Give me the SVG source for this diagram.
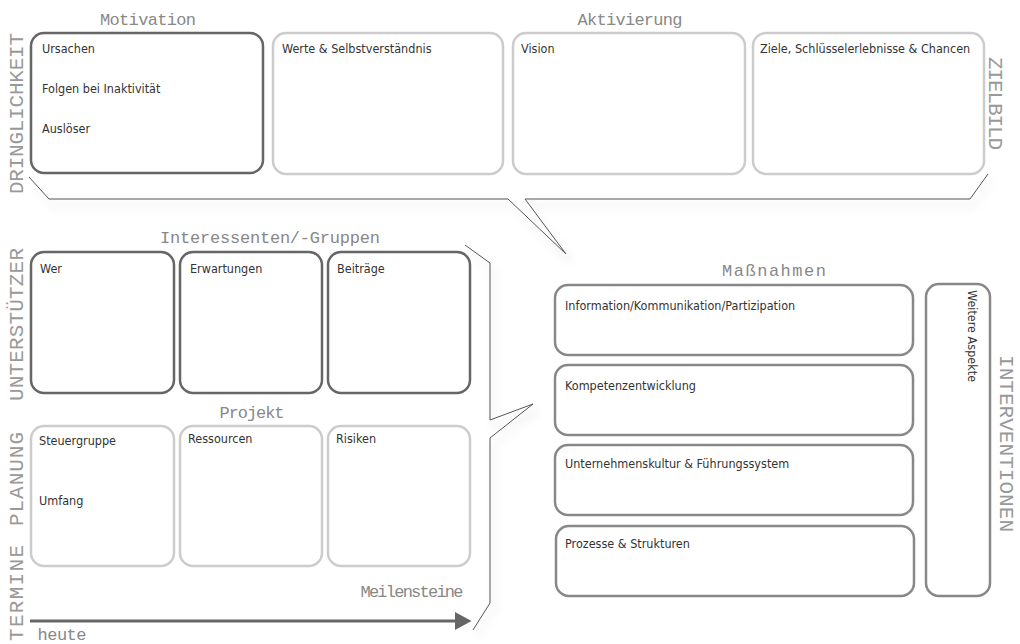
<svg xmlns="http://www.w3.org/2000/svg" width="1020" height="644" viewBox="0 0 1020 644">
<style>
.bd{fill:#fff;stroke:#666;stroke-width:2.5}
.bl{fill:#fff;stroke:#ccc;stroke-width:2.5}
.bm{fill:#fff;stroke:#888;stroke-width:2.5}
.t{font-family:"DejaVu Sans Condensed","DejaVu Sans",sans-serif;font-size:12.5px;fill:#333}
.h{font-family:"Liberation Mono",monospace;font-size:17px;fill:#888;text-anchor:middle}
.s{font-family:"Liberation Mono",monospace;font-size:21px;fill:#999}
.br{fill:none;stroke:#555;stroke-width:1}
</style>
<defs>
<filter id="sh" x="-10%" y="-20%" width="120%" height="160%">
<feDropShadow dx="4" dy="7" stdDeviation="5" flood-color="#000" flood-opacity="0.22"/>
</filter>
<marker id="ah" markerWidth="6" markerHeight="6" refX="1" refY="3" orient="auto" markerUnits="strokeWidth">
<path d="M0,0 L5.5,3 L0,6 z" fill="#666"/>
</marker>
</defs>

<g id="connectors">
<path class="br" filter="url(#sh)" d="M29,177 L49,199 L508,199 L566,254 L525,199 L970,199 L988,174"/>
<path class="br" filter="url(#sh)" d="M465,245 L490,263 L490,420 L533,404 L490,438 L490,603 L473,630"/>
<line x1="30" y1="621" x2="458" y2="621" stroke="#666" stroke-width="3" marker-end="url(#ah)"/>
</g>

<g id="labels">
<text class="s" transform="translate(23,194) rotate(-90)" textLength="161" lengthAdjust="spacing">DRINGLICHKEIT</text>
<text class="s" transform="translate(23,401) rotate(-90)" textLength="153" lengthAdjust="spacing">UNTERSTÜTZER</text>
<text class="s" transform="translate(23,526) rotate(-90)" textLength="94" lengthAdjust="spacing">PLANUNG</text>
<text class="s" transform="translate(23,641) rotate(-90)" textLength="96" lengthAdjust="spacing">TERMINE</text>
<text class="s" transform="translate(989,57) rotate(90)" textLength="93" lengthAdjust="spacing">ZIELBILD</text>
<text class="s" transform="translate(1000,355) rotate(90)" textLength="177" lengthAdjust="spacing">INTERVENTIONEN</text>
<text class="h" x="148" y="25" textLength="96" lengthAdjust="spacing">Motivation</text>
<text class="h" x="630" y="25" textLength="105" lengthAdjust="spacing">Aktivierung</text>
<text class="h" x="270" y="243" textLength="220" lengthAdjust="spacing">Interessenten/-Gruppen</text>
<text class="h" x="252" y="418" textLength="65" lengthAdjust="spacing">Projekt</text>
<text class="h" x="774" y="276" textLength="104" lengthAdjust="spacing">Maßnahmen</text>
<text class="h" x="412" y="597" textLength="103" lengthAdjust="spacing">Meilensteine</text>
<text class="h" x="62" y="640" textLength="49" lengthAdjust="spacing">heute</text>
</g>

<g id="motivation"><rect class="bd" x="31" y="33" width="232" height="140" rx="13"/>
<text class="t" x="42" y="53">Ursachen</text><text class="t" x="42" y="93">Folgen bei Inaktivität</text><text class="t" x="42" y="133">Auslöser</text></g>
<g id="werte"><rect class="bl" x="273" y="33" width="230" height="141" rx="13"/><text class="t" x="282" y="53">Werte &amp; Selbstverständnis</text></g>
<g id="vision"><rect class="bl" x="513" y="33" width="232" height="141" rx="13"/><text class="t" x="521" y="53">Vision</text></g>
<g id="ziele"><rect class="bl" x="753" y="33" width="231" height="141" rx="13"/><text class="t" x="760" y="53">Ziele, Schlüsselerlebnisse &amp; Chancen</text></g>

<g id="wer"><rect class="bd" x="31" y="252" width="143" height="141" rx="13"/><text class="t" x="40" y="273">Wer</text></g>
<g id="erwartungen"><rect class="bd" x="180" y="252" width="142" height="141" rx="13"/><text class="t" x="190" y="273">Erwartungen</text></g>
<g id="beitraege"><rect class="bd" x="328" y="252" width="142" height="141" rx="13"/><text class="t" x="337" y="273">Beiträge</text></g>

<g id="steuergruppe"><rect class="bl" x="31" y="426" width="143" height="140" rx="13"/><text class="t" x="39" y="445">Steuergruppe</text><text class="t" x="39" y="505">Umfang</text></g>
<g id="ressourcen"><rect class="bl" x="180" y="426" width="142" height="140" rx="13"/><text class="t" x="188" y="443">Ressourcen</text></g>
<g id="risiken"><rect class="bl" x="328" y="426" width="142" height="140" rx="13"/><text class="t" x="336" y="443">Risiken</text></g>

<g id="information"><rect class="bm" x="555" y="285" width="358" height="70" rx="13"/><text class="t" x="565" y="310">Information/Kommunikation/Partizipation</text></g>
<g id="kompetenz"><rect class="bm" x="555" y="365" width="358" height="70" rx="13"/><text class="t" x="565" y="390">Kompetenzentwicklung</text></g>
<g id="kultur"><rect class="bm" x="555" y="445" width="358" height="70" rx="13"/><text class="t" x="565" y="468">Unternehmenskultur &amp; Führungssystem</text></g>
<g id="prozesse"><rect class="bm" x="556" y="526" width="358" height="70" rx="13"/><text class="t" x="565" y="548">Prozesse &amp; Strukturen</text></g>
<g id="weitere"><rect class="bm" x="926" y="284" width="64" height="312" rx="13"/><text class="t" transform="translate(968,290) rotate(90)">Weitere Aspekte</text></g>
</svg>
